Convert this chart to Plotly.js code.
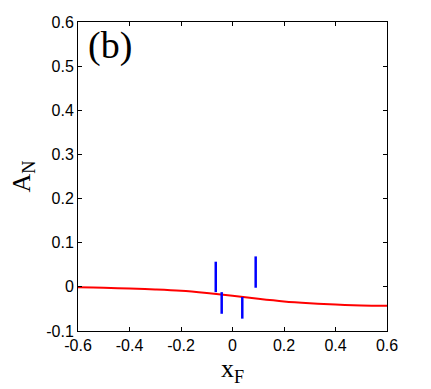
<!DOCTYPE html>
<html>
<head>
<meta charset="utf-8">
<script src="https://cdn.plot.ly/plotly-3.0.1.min.js"></script>
<style>
  body { margin: 0; background: #fff; }
  #myPlot { width: 431px; height: 389px; }
</style>
</head>
<body>
<div id="myPlot"></div>
<script>
// red curve A_N(x_F)
var curveX = [-0.6, -0.5, -0.4, -0.3, -0.2, -0.1, 0.0, 0.1, 0.2, 0.3, 0.4, 0.5, 0.6];
var curveY = [-0.001, -0.002, -0.004, -0.006, -0.009, -0.014, -0.020, -0.027, -0.033, -0.037, -0.040, -0.042, -0.043];

// blue vertical bars (low / high ends)
var barX  = [-0.065, -0.042, 0.038, 0.090];
var barLo = [-0.012, -0.061, -0.072, -0.002];
var barHi = [0.057, -0.012, -0.023, 0.069];

var xTicks = [-0.6, -0.4, -0.2, 0, 0.2, 0.4, 0.6];
var xTickText = ['-0.6', '-0.4', '-0.2', '0', '0.2', '0.4', '0.6'];
var yTicks = [-0.1, 0, 0.1, 0.2, 0.3, 0.4, 0.5, 0.6];
var yTickText = ['-0.1', '0', '0.1', '0.2', '0.3', '0.4', '0.5', '0.6'];

// build segments separated by nulls
var segX = [], segY = [];
for (var i = 0; i < barX.length; i++) {
    segX.push(barX[i], barX[i], null);
    segY.push(barLo[i], barHi[i], null);
}

var curve = {
    x: curveX,
    y: curveY,
    mode: 'lines',
    line: { color: 'rgb(255,0,0)', width: 2, shape: 'spline' },
    hoverinfo: 'none'
};

var bars = {
    x: segX,
    y: segY,
    mode: 'lines',
    line: { color: 'rgb(0,0,255)', width: 2.5 },
    connectgaps: false,
    hoverinfo: 'none'
};

var axisCommon = {
    showgrid: false,
    zeroline: false,
    showline: true,
    linecolor: 'black',
    linewidth: 1,
    mirror: 'ticks',
    ticks: 'inside',
    ticklen: 4,
    tickcolor: 'black',
    tickfont: { family: 'Liberation Sans, Arial, sans-serif', size: 16, color: 'black' }
};

var layout = {
    width: 431,
    height: 389,
    margin: { l: 78, r: 44, t: 22, b: 58 },
    paper_bgcolor: 'white',
    plot_bgcolor: 'white',
    showlegend: false,
    xaxis: Object.assign({}, axisCommon, {
        range: [-0.6, 0.6],
        tickvals: xTicks,
        ticktext: xTickText,
        title: { text: 'x<sub>F</sub>', font: { family: 'Liberation Serif, Times New Roman, serif', size: 26, color: 'black' }, standoff: 5 }
    }),
    yaxis: Object.assign({}, axisCommon, {
        range: [-0.1, 0.6],
        tickvals: yTicks,
        ticktext: yTickText,
        title: { text: 'A<sub>N</sub>', font: { family: 'Liberation Serif, Times New Roman, serif', size: 26, color: 'black' }, standoff: 8 }
    }),
    annotations: [{
        text: '(b)',
        xref: 'paper', yref: 'paper',
        x: 0.025, y: 1.0,
        xanchor: 'left', yanchor: 'top',
        showarrow: false,
        font: { family: 'Liberation Serif, Times New Roman, serif', size: 38, color: 'black' }
    }]
};

Plotly.newPlot('myPlot', [curve, bars], layout, { displayModeBar: false, staticPlot: true });
</script>
</body>
</html>
